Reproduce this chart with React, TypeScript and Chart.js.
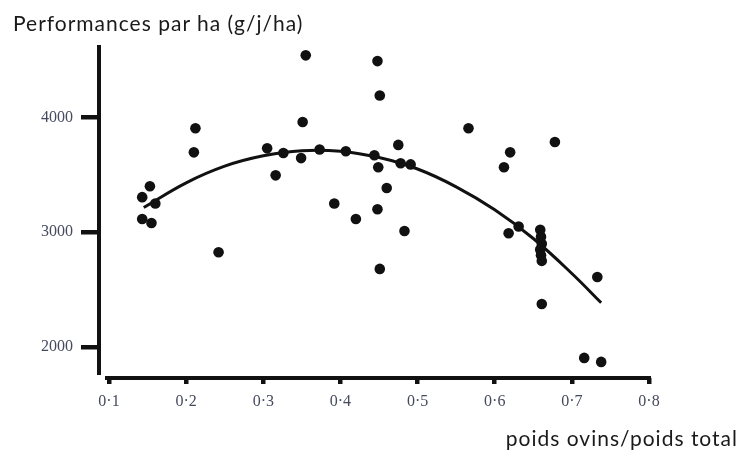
import React, { useEffect, useRef } from "react";
import { Chart, registerables } from "chart.js";

Chart.register(...registerables);

// Observed points: ratio (poids ovins / poids total) and performance (g/j/ha)
const pointRatio = [
  0.212, 0.210, 0.153, 0.143, 0.160, 0.143, 0.155, 0.305, 0.326, 0.316,
  0.355, 0.448, 0.451, 0.351, 0.566, 0.349, 0.373, 0.407, 0.444, 0.449,
  0.475, 0.478, 0.491, 0.460, 0.392, 0.448, 0.420, 0.483, 0.451, 0.242,
  0.620, 0.612, 0.678, 0.631, 0.618, 0.659, 0.660, 0.661, 0.659, 0.660,
  0.661, 0.733, 0.661, 0.716, 0.738,
];
const pointPerf = [
  3905, 3695, 3400, 3305, 3250, 3115, 3080, 3730, 3690, 3495,
  4540, 4490, 4190, 3960, 3905, 3645, 3720, 3705, 3670, 3565,
  3760, 3600, 3590, 3385, 3250, 3200, 3115, 3010, 2680, 2825,
  3695, 3565, 3785, 3050, 2990, 3020, 2960, 2900, 2850, 2800,
  2750, 2610, 2375, 1905, 1870,
];

// Fitted curve
const curveRatio = [0.145, 0.2, 0.25, 0.3, 0.35, 0.4, 0.45, 0.5, 0.55, 0.6, 0.65, 0.7, 0.738];
const curvePerf = [3215, 3430, 3575, 3665, 3710, 3705, 3650, 3550, 3395, 3195, 2945, 2640, 2385];

// Axis ticks
const xTicks = [0.1, 0.2, 0.3, 0.4, 0.5, 0.6, 0.7, 0.8];
const xTickLabels = ["0·1", "0·2", "0·3", "0·4", "0·5", "0·6", "0·7", "0·8"];
const yTicks = [2000, 3000, 4000];
const yTickLabels = ["2000", "3000", "4000"];

const yTitle = "Performances par ha (g/j/ha)";
const xTitle = "poids ovins/poids total";

const INK = "#111111";
const TICK_TEXT = "#454a5e";

const offsetAxes = {
  id: "offsetAxes",
  afterDraw(chart: any) {
    const { ctx, chartArea } = chart;
    const { left, right, top, bottom } = chartArea;
    ctx.save();
    ctx.strokeStyle = INK;
    ctx.lineWidth = 4;
    ctx.lineCap = "butt";
    ctx.beginPath();
    ctx.moveTo(left, top);
    ctx.lineTo(left, bottom - 3);
    ctx.stroke();
    ctx.beginPath();
    ctx.moveTo(left + 6, bottom);
    ctx.lineTo(right + 2, bottom);
    ctx.stroke();
    ctx.restore();
  },
};

export default function App() {
  const ref = useRef<HTMLCanvasElement | null>(null);

  useEffect(() => {
    if (!ref.current) return;
    const chart = new Chart(ref.current, {
      type: "scatter",
      data: {
        datasets: [
          {
            type: "line",
            data: curveRatio.map((x, i) => ({ x, y: curvePerf[i] })),
            borderColor: INK,
            borderWidth: 3,
            pointRadius: 0,
            tension: 0.4,
            fill: false,
          } as any,
          {
            type: "scatter",
            data: pointRatio.map((x, i) => ({ x, y: pointPerf[i] })),
            backgroundColor: INK,
            borderColor: INK,
            borderWidth: 0,
            pointRadius: 5.3,
          } as any,
        ],
      },
      options: {
        animation: false,
        responsive: false,
        devicePixelRatio: 1,
        layout: { padding: { left: 0, right: 103, top: 45, bottom: 0 } },
        plugins: { legend: { display: false }, tooltip: { enabled: false } },
        scales: {
          x: {
            type: "linear",
            min: 0.087,
            max: 0.8,
            afterBuildTicks: (s: any) => {
              s.ticks = xTicks.map((v) => ({ value: v }));
            },
            afterFit: (s: any) => {
              s.height = 74;
            },
            border: { display: false },
            grid: {
              drawOnChartArea: false,
              drawTicks: true,
              tickLength: 6,
              lineWidth: 4.5,
              color: INK,
            },
            ticks: {
              padding: 8,
              color: TICK_TEXT,
              font: { family: "Liberation Serif", size: 16 },
              maxRotation: 0,
              autoSkip: false,
              callback: (v: any, i: number) => xTickLabels[i],
            },
          },
          y: {
            type: "linear",
            min: 1730,
            max: 4630,
            afterBuildTicks: (s: any) => {
              s.ticks = yTicks.map((v) => ({ value: v }));
            },
            afterFit: (s: any) => {
              s.width = 99;
            },
            border: { display: false },
            grid: {
              drawOnChartArea: false,
              drawTicks: true,
              tickLength: 18,
              lineWidth: 4.5,
              color: INK,
            },
            ticks: {
              padding: 8,
              color: TICK_TEXT,
              font: { family: "Liberation Serif", size: 16 },
              autoSkip: false,
              callback: (v: any, i: number) => yTickLabels[i],
            },
          },
        },
      },
      plugins: [offsetAxes],
    } as any);
    return () => chart.destroy();
  }, []);

  const titleStyle: React.CSSProperties = {
    position: "absolute",
    fontFamily: "Lato, 'Noto Sans', sans-serif",
    fontSize: 21,
    letterSpacing: "1px",
    color: "#1a1a1a",
    whiteSpace: "nowrap",
    lineHeight: "26px",
  };

  return (
    <div style={{ position: "fixed", left: 0, top: 0, width: 752, height: 452, background: "#fff" }}>
      <canvas ref={ref} width={752} height={452} style={{ position: "absolute", left: 0, top: 0 }} />
      <div style={{ ...titleStyle, left: 13, top: 10 }}>{yTitle}</div>
      <div style={{ ...titleStyle, right: 14, top: 425 }}>{xTitle}</div>
    </div>
  );
}
